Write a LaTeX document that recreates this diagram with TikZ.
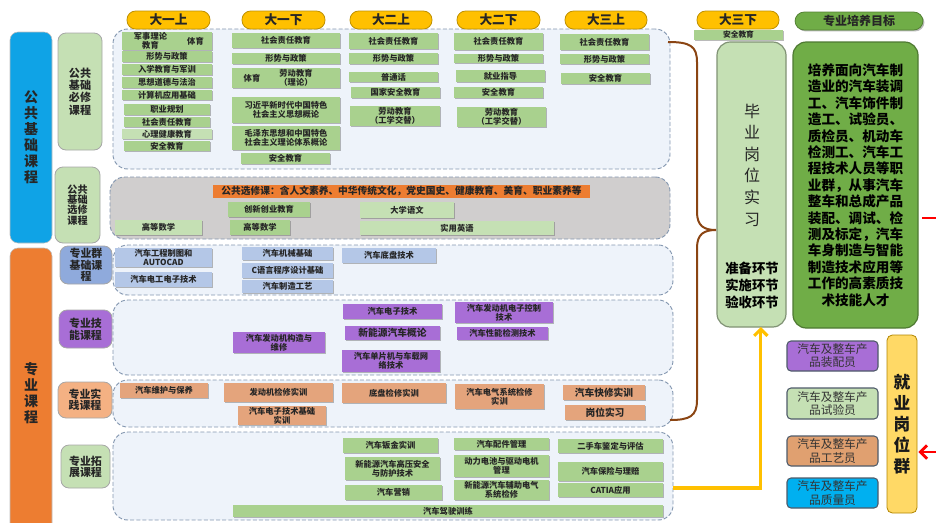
\documentclass[tikz,border=0pt]{standalone}
\usepackage{fontspec}
\setmainfont{Noto Sans CJK SC}
\usetikzlibrary{shadows,arrows.meta}

\definecolor{cG}{HTML}{A9D18E}
\definecolor{cLG}{HTML}{C5E0B4}
\definecolor{cB}{HTML}{B4C7E7}
\definecolor{cP}{HTML}{A86ED6}
\definecolor{cO}{HTML}{E4A47C}
\definecolor{cBan}{HTML}{ED7D31}
\definecolor{cGold}{HTML}{FFC000}
\definecolor{cReg}{HTML}{8497B0}
\definecolor{cRegF}{HTML}{EEF3FA}
\definecolor{cGray}{HTML}{D0CECE}
\definecolor{cSky}{HTML}{0FA3E6}
\definecolor{cGoal}{HTML}{70AD47}
\definecolor{cBrown}{HTML}{8B4513}
\definecolor{cYel}{HTML}{FFD966}
\definecolor{cBlueLbl}{HTML}{8FAADC}
\definecolor{cPeachLbl}{HTML}{F4B183}
\definecolor{cCardO}{HTML}{E0A070}
\definecolor{cCardB}{HTML}{00B0F0}

\newcommand\fsz[2]{\fontsize{#1}{#2}\selectfont}
\newcommand\bx[7]{\node[#1, minimum width={(#5-#3)*0.75pt}, minimum height={(#6-#4)*0.75pt}] (#2) at ({(#3+#5)/2},{(#4+#6)/2}) {#7};}

\tikzset{
  base/.style={inner sep=0pt, outer sep=0pt, align=center, text=black!85, font=\bfseries\fsz{6.2}{6.9}},
  sh/.style={drop shadow={shadow xshift=1.1pt, shadow yshift=-1.1pt, opacity=0.45, fill=black!60}},
  gbox/.style={base, sh, fill=cG},
  lgbox/.style={base, sh, fill=cLG},
  bbox/.style={base, sh, fill=cB},
  pbox/.style={base, sh, fill=cP},
  obox/.style={base, sh, fill=cO},
  banner/.style={base, fill=cBan, font=\bfseries\fsz{7.3}{8}},
  region/.style={inner sep=0pt, draw=cReg, dash pattern=on 3pt off 1.6pt, fill=cRegF, rounded corners=11pt, line width=0.7pt},
  bar/.style={base, rounded corners=6pt, draw=black!25, font=\bfseries\fsz{10.5}{12}},
  lbl/.style={base, rounded corners=6pt, draw=black!35, line width=0.6pt, font=\bfseries\fsz{8.3}{9.2}},
  sem/.style={base, fill=cGold, draw=cGold!75!black, line width=0.6pt, rounded corners=6.5pt, font=\bfseries\fsz{9.5}{10}},
  goalhdr/.style={base, sh, fill=cGoal, draw=cGoal!75!black, line width=0.6pt, rounded corners=7pt, font=\bfseries\fsz{9}{10}},
  bigbox/.style={base, rounded corners=10pt, line width=0.9pt},
  card/.style={base, rounded corners=3pt, draw=black!40!cReg, line width=0.8pt, font=\fsz{8.8}{9.8}, text=black!80},
  txt/.style={inner sep=0pt, align=center, text=black!85, font=\bfseries\fsz{6.2}{6.9}},
  bigf/.style={font=\bfseries\fsz{7.3}{8}},
  brace/.style={draw=cBrown, line width=1.5pt},
  yarr/.style={draw=cGold, line width=2.3pt, -{Straight Barb[length=5pt,width=10pt]}},
  rline/.style={draw=red, line width=2.2pt}
}

\begin{document}
\begin{tikzpicture}[x=0.75pt,y=-0.75pt]
\useasboundingbox (0,0) rectangle (936,522);

% left bars
\bx{bar, fill=cSky}{gjk}{10}{32}{52}{243}{公\\共\\基\\础\\课\\程}
\bx{bar, fill=cBan}{zykc}{10}{248}{52}{538}{专\\业\\课\\程}

% second column labels
\bx{lbl, fill=cLG}{gjbx}{58}{33}{102}{150}{公共\\基础\\必修\\课程}
\bx{lbl, fill=cLG, font=\bfseries\fsz{7.6}{7.6}}{gjxx}{55}{167}{100}{243}{公共\\基础\\选修\\课程}
\bx{lbl, fill=cBlueLbl, font=\bfseries\fsz{8.2}{8.6}}{zyq}{60}{246}{112}{284}{专业群\\基础课\\程}
\bx{lbl, fill=cP, font=\bfseries\fsz{8.2}{9}}{zyjn}{59}{310}{112}{348}{专业技\\能课程}
\bx{lbl, fill=cPeachLbl, font=\bfseries\fsz{8.2}{8}}{zysj}{58}{382}{112}{418}{专业实\\践课程}
\bx{lbl, fill=cLG, font=\bfseries\fsz{8.2}{8.4}}{zytz}{61}{445}{110}{488}{专业拓\\展课程}

% regions
\bx{region}{rg1}{113}{29}{670}{169}{}
\bx{region, fill=cGray}{rg2}{110}{177}{670}{239}{}
\bx{region}{rg3}{113}{245}{673}{295}{}
\bx{region}{rg4}{113}{300}{673}{375}{}
\bx{region}{rg5}{113}{380}{673}{427}{}
\bx{region}{rg6}{113}{432}{673}{520}{}

% semester headers
\bx{sem}{s11}{127}{11}{210}{29}{大一上}
\bx{sem}{s12}{242}{11}{325}{29}{大一下}
\bx{sem}{s21}{350}{11}{432}{29}{大二上}
\bx{sem}{s22}{457}{11}{540}{29}{大二下}
\bx{sem}{s31}{565}{11}{647}{29}{大三上}
\bx{sem}{s32}{697}{11}{779}{29}{大三下}
\bx{goalhdr}{mbh}{795}{12}{923}{30}{专业培养目标}

% 大一上
\bx{gbox}{a1}{122}{32}{179}{50}{军事理论\\教育}
\bx{gbox}{a2}{179}{32}{212}{50}{体育}
\bx{gbox}{a3}{122}{51}{212}{62}{形势与政策}
\bx{gbox}{a4}{122}{64}{212}{75}{入学教育与军训}
\bx{gbox}{a5}{122}{77}{212}{88}{思想道德与法治}
\bx{gbox}{a6}{122}{90}{212}{100}{计算机应用基础}
\bx{gbox}{a7}{124}{104}{210}{115}{职业规划}
\bx{gbox}{a8}{124}{117}{210}{127}{社会责任教育}
\bx{lgbox}{a9}{122}{129}{212}{139}{心理健康教育}
\bx{gbox}{a10}{124}{141}{210}{151}{安全教育}

% 大一下
\bx{gbox}{b1}{232}{33}{340}{48}{社会责任教育}
\bx{gbox}{b2}{232}{53}{340}{64}{形势与政策}
\bx{gbox}{b3}{232}{68}{340}{88}{}
\node[txt] (b3a) at (252,78) {体育};
\node[txt] (b3b) at (296,78) {劳动教育\\（理论）};
\bx{gbox}{b4}{232}{97}{340}{123}{习近平新时代中国特色\\社会主义思想概论}
\bx{gbox}{b5}{232}{126}{340}{150}{毛泽东思想和中国特色\\社会主义理论体系概论}
\bx{gbox}{b6}{241}{153}{330}{164}{安全教育}

% 大二上
\bx{gbox}{c1}{349}{33}{438}{49}{社会责任教育}
\bx{gbox}{c2}{349}{53}{438}{64}{形势与政策}
\bx{gbox}{c3}{349}{72}{438}{82}{普通话}
\bx{gbox}{c4}{351}{87}{440}{98}{国家安全教育}
\bx{gbox}{c5}{350}{106}{440}{126}{劳动教育\\（工学交替）}

% 大二下
\bx{gbox}{d1}{454}{33}{543}{50}{社会责任教育}
\bx{gbox}{d2}{454}{54}{543}{63}{形势与政策}
\bx{gbox}{d3}{456}{70}{545}{82}{就业指导}
\bx{gbox}{d4}{454}{87}{543}{98}{安全教育}
\bx{gbox}{d5}{457}{107}{546}{127}{劳动教育\\（工学交替）}

% 大三上
\bx{gbox}{e1}{560}{34}{649}{50}{社会责任教育}
\bx{gbox}{e2}{560}{54}{649}{64}{形势与政策}
\bx{gbox}{e3}{561}{73}{650}{84}{安全教育}

% 大三下
\bx{gbox, font=\bfseries\fsz{5.8}{6}}{f1}{694}{30}{783}{40}{安全教育}

% 公共选修
\bx{banner}{ban}{213}{185}{590}{198}{公共选修课：含人文素养、中华传统文化，党史国史、健康教育、美育、职业素养等}
\bx{gbox}{g1}{228}{202}{310}{217}{创新创业教育}
\bx{lgbox}{g2}{115}{220}{202}{235}{高等数学}
\bx{gbox}{g3}{230}{220}{290}{235}{高等数学}
\bx{lgbox}{g4}{360}{202}{454}{218}{大学语文}
\bx{lgbox}{g5}{360}{221}{554}{235}{实用英语}

% 专业群基础
\bx{bbox}{h1}{115}{248}{212}{267}{汽车工程制图和\\AUTOCAD}
\bx{bbox}{h2}{115}{272}{212}{287}{汽车电工电子技术}
\bx{bbox}{h3}{242}{247}{333}{260}{汽车机械基础}
\bx{bbox}{h4}{242}{263}{333}{278}{C语言程序设计基础}
\bx{bbox}{h5}{242}{280}{333}{293}{汽车制造工艺}
\bx{bbox}{h6}{342}{248}{436}{263}{汽车底盘技术}

% 专业技能
\bx{pbox}{i1}{233}{332}{325}{353}{汽车发动机构造与\\维修}
\bx{pbox}{i2}{343}{304}{442}{319}{汽车电子技术}
\bx{pbox, bigf}{i3}{345}{326}{440}{340}{新能源汽车概论}
\bx{pbox}{i4}{342}{350}{440}{372}{汽车单片机与车载网\\络技术}
\bx{pbox}{i5}{455}{302}{553}{323}{汽车发动机电子控制\\技术}
\bx{pbox}{i6}{457}{327}{548}{340}{汽车性能检测技术}

% 专业实践
\bx{obox}{j1}{120}{383}{208}{398}{汽车维护与保养}
\bx{obox}{j2}{224}{383}{333}{402}{发动机检修实训}
\bx{obox}{j3}{238}{406}{326}{425}{汽车电子技术基础\\实训}
\bx{obox}{j4}{342}{383}{446}{403}{底盘检修实训}
\bx{obox}{j5}{455}{384}{544}{409}{汽车电气系统检修\\实训}
\bx{obox, bigf}{j6}{563}{385}{645}{400}{汽车快修实训}
\bx{obox, bigf}{j7}{565}{405}{645}{420}{岗位实习}

% 专业拓展
\bx{gbox}{k1}{343}{438}{438}{453}{汽车钣金实训}
\bx{gbox}{k2}{345}{457}{440}{480}{新能源汽车高压安全\\与防护技术}
\bx{gbox}{k3}{345}{485}{442}{500}{汽车营销}
\bx{gbox}{k4}{454}{438}{549}{450}{汽车配件管理}
\bx{gbox}{k5}{454}{455}{549}{477}{动力电池与驱动电机\\管理}
\bx{gbox}{k6}{454}{480}{549}{500}{新能源汽车辅助电气\\系统检修}
\bx{gbox}{k7}{558}{439}{663}{453}{二手车鉴定与评估}
\bx{gbox}{k8}{558}{462}{663}{481}{汽车保险与理赔}
\bx{gbox}{k9}{558}{483}{663}{497}{CATIA应用}
\bx{gbox}{k10}{233}{505}{663}{517}{汽车驾驶训练}

% right side
\bx{bigbox, fill=cLG, draw=black!35!cLG}{sx}{717}{42}{786}{327}{}
\node[inner sep=0pt, align=center, text=black!85, font=\fsz{12}{16.2}] (sxa) at (752,165) {毕\\业\\岗\\位\\实\\习};
\node[inner sep=0pt, align=center, text=black, font=\bfseries\fsz{10}{12.75}] (sxb) at (752,285) {准备环节\\实施环节\\验收环节};
\bx{bigbox, fill=cGoal, draw=cGoal!70!black, font=\bfseries\fsz{10.2}{12.3}, text=black}{goal}{793}{42}{918}{328}{培养面向汽车制\\造业的汽车装调\\工、汽车饰件制\\造工、试验员、\\质检员、机动车\\检测工、汽车工\\程技术人员等职\\业群，从事汽车\\整车和总成产品\\装配、调试、检\\测及标定，汽车\\车身制造与智能\\制造技术应用等\\工作的高素质技\\术技能人才}

\bx{card, fill=cP}{r1}{787}{341}{878}{371}{汽车及整车产\\品装配员}
\bx{card, fill=cLG}{r2}{787}{388}{878}{419}{汽车及整车产\\品试验员}
\bx{card, fill=cCardO}{r3}{787}{436}{878}{466}{汽车及整车产\\品工艺员}
\bx{card, fill=cCardB}{r4}{787}{478}{878}{508}{汽车及整车产\\品质量员}
\bx{bigbox, rounded corners=4pt, fill=cYel, draw=cGold!70!black, line width=0.6pt, font=\bfseries\fsz{12.5}{15.8}, text=black!90}{jy}{887}{335}{917}{513}{就\\业\\岗\\位\\群}

% connectors
\coordinate (bt) at (668,42);
\coordinate (bb) at (670,420);
\coordinate (btip) at (716,230);
\draw[brace] (bt) .. controls (690,42) and (697,46) .. (697,62) -- (697,212) .. controls (697,226) and (704,230) .. (btip) .. controls (704,230) and (697,234) .. (697,248) -- (697,400) .. controls (697,416) and (690,420) .. (bb);

\coordinate (ys) at (673,488);
\draw[yarr] (ys) -| ([xshift=7pt]sx.south);

\coordinate (rr1) at (937,218);
\draw[rline] ([xshift=3pt]goal.east |- rr1) -- (rr1);
\coordinate (rr2) at (938,452);
\draw[rline, -{Straight Barb[length=5pt,width=10pt]}] (rr2) -- ([xshift=1pt]jy.east |- rr2);
\end{tikzpicture}
\end{document}
